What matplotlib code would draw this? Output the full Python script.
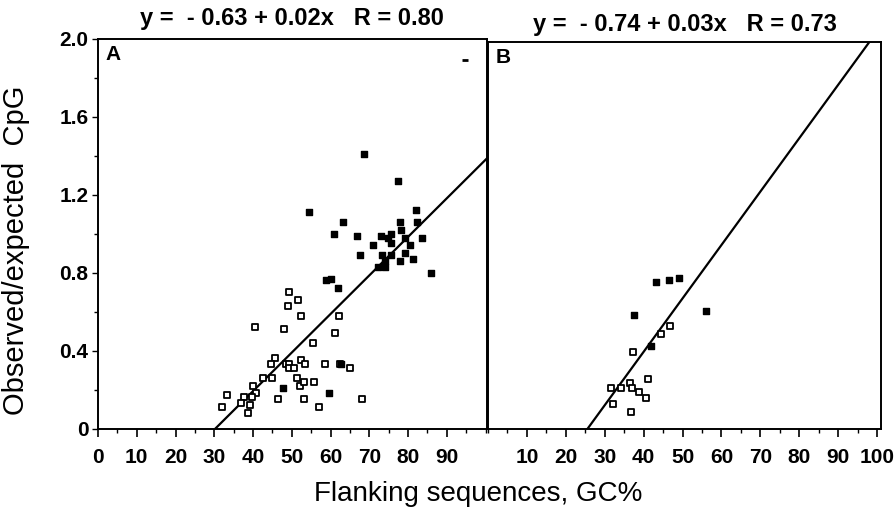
import matplotlib
matplotlib.use("Agg")
import matplotlib.pyplot as plt
import numpy as np
from matplotlib.ticker import MultipleLocator

# ---------------- data ----------------
a_filled_x = [68.7, 77.3, 54.5, 82.1, 63.2, 77.9, 82.3, 60.9, 66.8, 73.0, 74.8, 75.7, 78.2,
              79.2, 83.5, 71.0, 75.5, 80.6, 67.7, 73.4, 75.5, 79.3, 78.0, 81.3, 72.2, 74.1,
              74.1, 85.9, 58.9, 60.1, 61.8, 59.5, 47.7, 62.7]
a_filled_y = [1.41, 1.27, 1.11, 1.12, 1.06, 1.06, 1.06, 1.00, 0.99, 0.99, 0.98, 1.00, 1.02,
              0.98, 0.98, 0.94, 0.95, 0.94, 0.89, 0.89, 0.89, 0.90, 0.86, 0.87, 0.83, 0.83,
              0.86, 0.80, 0.76, 0.77, 0.72, 0.18, 0.21, 0.33]
a_open_x = [49.4, 51.7, 49.0, 52.5, 62.1, 40.5, 48.1, 61.2, 55.6, 45.6, 44.7, 48.6, 49.4,
            52.4, 53.5, 49.4, 50.6, 58.7, 62.4, 64.9, 42.7, 44.9, 51.3, 52.0, 53.2, 55.8,
            40.1, 33.2, 37.6, 40.7, 39.7, 36.9, 39.3, 46.4, 53.1, 32.0, 38.8, 57.1, 68.0]
a_open_y = [0.70, 0.66, 0.63, 0.58, 0.58, 0.52, 0.51, 0.49, 0.44, 0.36, 0.33, 0.33, 0.33,
            0.35, 0.33, 0.31, 0.31, 0.33, 0.33, 0.31, 0.26, 0.26, 0.26, 0.22, 0.24, 0.24,
            0.22, 0.17, 0.16, 0.18, 0.16, 0.13, 0.12, 0.15, 0.15, 0.11, 0.08, 0.11, 0.15]
a_stray_x = [94.8]
a_stray_y = [1.89]

b_filled_x = [43.2, 46.6, 49.1, 37.5, 55.9, 41.8]
b_filled_y = [0.76, 0.77, 0.78, 0.59, 0.61, 0.43]
b_open_x = [46.8, 44.5, 37.2, 41.2, 36.5, 31.6, 34.1, 37.1, 38.8, 40.5, 32.0, 36.7]
b_open_y = [0.53, 0.49, 0.40, 0.26, 0.24, 0.21, 0.21, 0.21, 0.19, 0.16, 0.13, 0.09]

# regression lines as drawn (intercept, slope)
line_a = (-0.600, 0.0198)
line_b = (-0.705, 0.0276)

title_a = "y =  - 0.63 + 0.02x   R = 0.80"
title_b = "y =  - 0.74 + 0.03x   R = 0.73"
panel_a = "A"
panel_b = "B"
yticks = [0, 0.4, 0.8, 1.2, 1.6, 2.0]
ytick_labels = ["0", "0.4", "0.8", "1.2", "1.6", "2.0"]
xticks_a = [0, 10, 20, 30, 40, 50, 60, 70, 80, 90]
xticks_b = [10, 20, 30, 40, 50, 60, 70, 80, 90, 100]
ylabel = "Observed/expected  CpG"
xlabel = "Flanking sequences, GC%"

# ---------------- figure ----------------
plt.rcParams['font.family'] = ['Liberation Sans Narrow', 'Liberation Sans', 'DejaVu Sans']

W, H = 895, 518
fig = plt.figure(figsize=(W / 100, H / 100), dpi=100)

def rect(x0, y0, x1, y1):
    return [x0 / W, 1 - y1 / H, (x1 - x0) / W, (y1 - y0) / H]

axA = fig.add_axes(rect(98, 39, 487.5, 428.5))
axB = fig.add_axes(rect(488, 42, 881, 429))

def style(ax, xlim, xticks):
    ax.set_xlim(*xlim)
    ax.set_ylim(0, 2.0)
    for s in ax.spines.values():
        s.set_linewidth(1.4)
        s.set_color('black')
    ax.set_xticks(xticks)
    ax.set_xticklabels([str(t) for t in xticks], fontsize=15, fontweight='bold')
    ax.xaxis.set_minor_locator(MultipleLocator(5))
    ax.tick_params(axis='x', which='major', direction='out', length=6, width=1.2, pad=8)
    ax.tick_params(axis='x', which='minor', direction='out', length=3, width=1.0)
    ax.yaxis.set_minor_locator(MultipleLocator(0.2))
    ax.tick_params(axis='y', which='both', direction='out', length=3, width=1.0)

style(axA, (0, 100.5), xticks_a)
style(axB, (0, 101), xticks_b)

axA.set_yticks(yticks)
axA.set_yticklabels(ytick_labels, fontsize=15, fontweight='bold')
axA.tick_params(axis='y', which='major', length=4, pad=3)
axB.set_yticks(yticks)
axB.set_yticklabels([])
axB.tick_params(axis='y', which='both', length=0)

ms = 4.6
for ax, fx, fy, ox, oy, ln in [(axA, a_filled_x, a_filled_y, a_open_x, a_open_y, line_a),
                               (axB, b_filled_x, b_filled_y, b_open_x, b_open_y, line_b)]:
    ax.scatter(ox, oy, marker='s', s=ms**2, facecolors='white', edgecolors='black',
               linewidths=1.3, zorder=3)
    ax.scatter(fx, fy, marker='s', s=ms**2, facecolors='black', edgecolors='black',
               linewidths=1.0, zorder=4)
    xs = np.linspace(0, 101, 400)
    ys = ln[0] + ln[1] * xs
    m = (ys >= 0) & (ys <= 2.0)
    ax.plot(xs[m], ys[m], color='black', lw=1.6, zorder=2, clip_on=True)

axA.plot(a_stray_x, a_stray_y, marker='_', ms=4, mew=2, color='black', ls='none')

axA.text(0.018, 0.985, panel_a, transform=axA.transAxes, ha='left', va='top',
         fontsize=15, fontweight='bold')
axB.text(0.02, 0.985, panel_b, transform=axB.transAxes, ha='left', va='top',
         fontsize=15, fontweight='bold')

fig.text(292 / W, 1 - 19 / H, title_a, ha='center', va='center', fontsize=17, fontweight='bold')
fig.text(685 / W, 1 - 24 / H, title_b, ha='center', va='center', fontsize=17, fontweight='bold')

fig.text(16 / W, 1 - 250 / H, ylabel, rotation=90, ha='center', va='center', fontsize=21)
fig.text(478 / W, 1 - 494 / H, xlabel, ha='center', va='center', fontsize=20)

fig.savefig("out.png", dpi=100)
